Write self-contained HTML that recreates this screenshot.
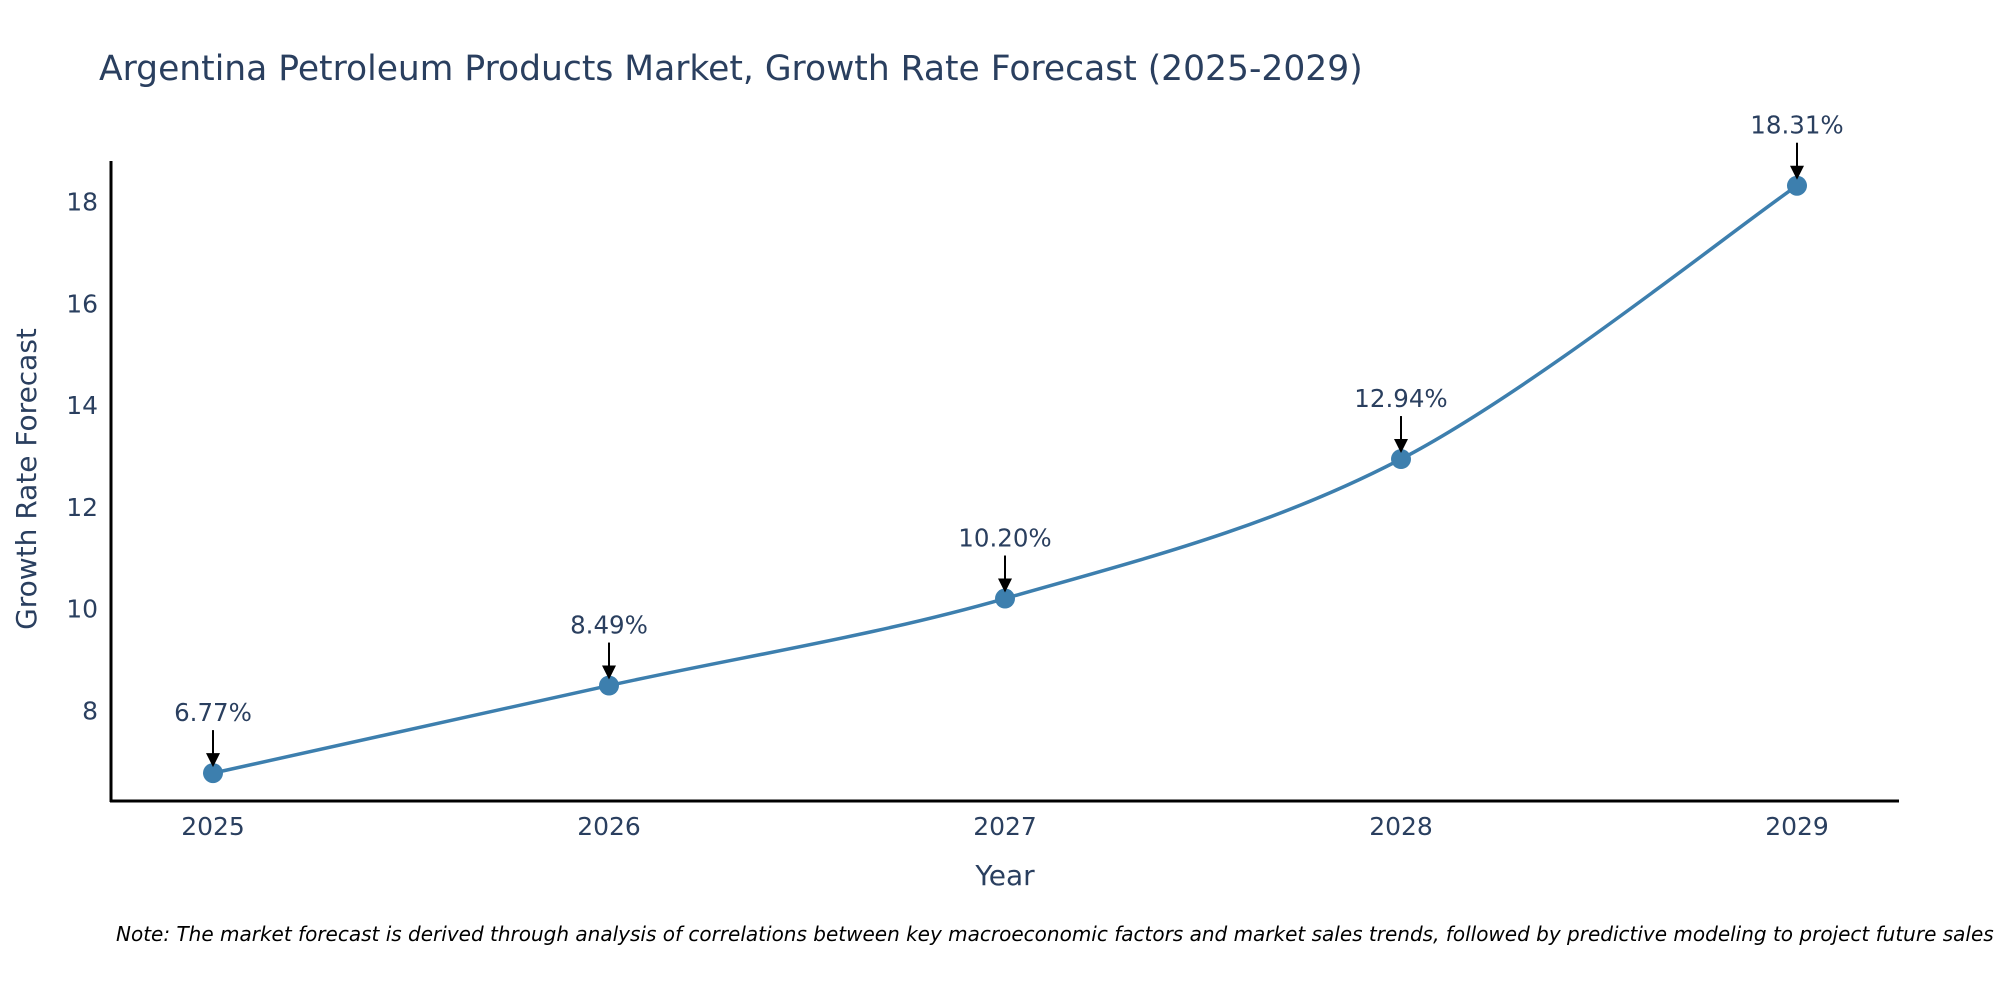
<!DOCTYPE html>
<html><head><meta charset="utf-8"><style>
body{margin:0;background:#fff;}
svg text{font-family:"DejaVu Sans","Liberation Sans",sans-serif;}
</style></head><body>
<svg width="2000" height="1000" viewBox="0 0 2000 1000">
<text x="99" y="80" font-size="34.5" fill="#2a3f5f">Argentina Petroleum Products Market, Growth Rate Forecast (2025-2029)</text>
<g id="yt"></g>
<g id="xt"></g>
<line x1="111" y1="161" x2="111" y2="802" stroke="#000" stroke-width="3"/>
<line x1="110" y1="801" x2="1899" y2="801" stroke="#000" stroke-width="3"/>
<text transform="translate(36,479) rotate(-90)" text-anchor="middle" font-size="28" fill="#2a3f5f">Growth Rate Forecast</text>
<text x="1005" y="885" text-anchor="middle" font-size="28" fill="#2a3f5f">Year</text>
<path id="line" fill="none" stroke="#3d7fae" stroke-width="3.5"/>
<g id="pts"></g>
<text x="116" y="941" font-size="20" font-style="italic" fill="#000">Note: The market forecast is derived through analysis of correlations between key macroeconomic factors and market sales trends, followed by predictive modeling to project future sales</text>
</svg>
<script>
const years=[2025,2026,2027,2028,2029];
const values=[6.77,8.49,10.20,12.94,18.31];
const labels=["6.77%","8.49%","10.20%","12.94%","18.31%"];
const yTicks=[8,10,12,14,16,18];
const NS="http://www.w3.org/2000/svg";
function X(i){return 213+i*396;}
function Y(v){return 710.5-(v-8)*50.9;}
function mk(t,a,p){const e=document.createElementNS(NS,t);for(const k in a)e.setAttribute(k,a[k]);p.appendChild(e);return e;}
const yt=document.getElementById('yt'),xt=document.getElementById('xt'),pts=document.getElementById('pts');
yTicks.forEach(v=>{const t=mk('text',{x:98,y:Y(v)+9,'text-anchor':'end','font-size':25,fill:'#2a3f5f'},yt);t.textContent=v;

});
years.forEach((y,i)=>{const t=mk('text',{x:X(i),y:835,'text-anchor':'middle','font-size':25,fill:'#2a3f5f'},xt);t.textContent=y;

});
const P=values.map((v,i)=>[X(i),Y(v)]);
let d='M'+P[0][0]+','+P[0][1];
for(let i=0;i<P.length-1;i++){const p0=P[Math.max(0,i-1)],p1=P[i],p2=P[i+1],p3=P[Math.min(P.length-1,i+2)];const s=1/6;
d+=` C${p1[0]+(p2[0]-p0[0])*s},${p1[1]+(p2[1]-p0[1])*s} ${p2[0]-(p3[0]-p1[0])*s},${p2[1]-(p3[1]-p1[1])*s} ${p2[0]},${p2[1]}`;}
document.getElementById('line').setAttribute('d',d);
P.forEach((p,i)=>{
const c=mk('circle',{cx:p[0],cy:p[1],r:10,fill:'#3d7fae'},pts);


const l=mk('line',{x1:p[0],y1:p[1]-43,x2:p[0],y2:p[1]-18,stroke:'#000','stroke-width':2},pts);


const h=mk('polygon',{points:`${p[0]-7},${p[1]-20} ${p[0]+7},${p[1]-20} ${p[0]},${p[1]-6}`,fill:'#000'},pts);


const t=mk('text',{x:p[0],y:p[1]-52,'text-anchor':'middle','font-size':24.5,fill:'#2a3f5f'},pts);t.textContent=labels[i];


});
</script>
</body></html>
